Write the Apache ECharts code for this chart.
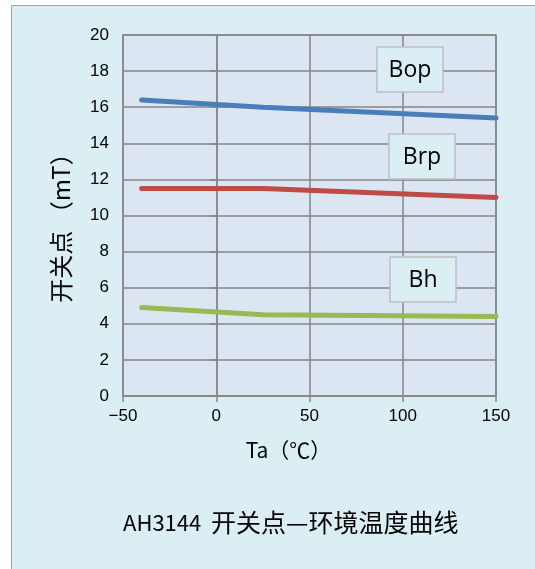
<!DOCTYPE html>
<html>
<head>
<meta charset="utf-8">
<script src="https://cdn.jsdelivr.net/npm/echarts@6/dist/echarts.min.js"></script>
<style>
html,body{margin:0;padding:0;background:#fff;overflow:hidden;}
#frame{position:absolute;left:11px;top:5px;width:600px;height:600px;border:1.5px solid #a6a6a6;background:#daeef3;box-sizing:border-box;}
#chart{position:absolute;left:0;top:0;width:535px;height:569px;}
</style>
</head>
<body>
<div id="frame"></div>
<div id="chart"></div>
<script>
// Data
const temps = [-40, 25, 150];
const bop = [16.4, 16.0, 15.4];
const brp = [11.5, 11.5, 11.0];
const bh = [4.9, 4.5, 4.4];
const seriesNames = ['Bop', 'Brp', 'Bh'];
const xTicks = [-50, 0, 50, 100, 150];
const yTicks = [0, 2, 4, 6, 8, 10, 12, 14, 16, 18, 20];
const titleLatin = 'AH3144  ';
const titleCjk = '开关点—环境温度曲线';
const xName = 'Ta（℃）';
const yName = '开关点 （mT）';

const colors = ['#4a7ebb', '#be4b48', '#98b954'];
const pairs = arr => temps.map((t, i) => [t, arr[i]]);

const chart = echarts.init(document.getElementById('chart'), null, {renderer: 'canvas'});
const latin = '"Liberation Sans", Arial, sans-serif';
const cjk = '"Noto Sans CJK SC", "Noto Sans", sans-serif';

function labelBox(text, x, y) {
  return [
    {type: 'rect', shape: {x: x, y: y, width: 66, height: 45},
     style: {fill: '#daeef3', stroke: '#bfbfbf', lineWidth: 1.5}, z: 10},
    {type: 'text', x: x + 33, y: y + 23, z: 11,
     style: {text: text, fill: '#000', font: '23px "Open Sans", "Noto Sans", sans-serif',
             align: 'center', verticalAlign: 'middle'}}
  ];
}

chart.setOption({
  backgroundColor: 'transparent',
  animation: false,
  title: {
    text: '{a|' + titleLatin + '}{b|' + titleCjk + '}',
    left: 118, top: 505,
    textStyle: {
      fontWeight: 'normal',
      rich: {
        a: {fontFamily: cjk, fontSize: 22, fontWeight: 'normal', color: '#000'},
        b: {fontFamily: cjk, fontSize: 25, fontWeight: 'normal', color: '#000'}
      }
    }
  },
  grid: {
    left: 123, top: 35, width: 373, height: 361,
    show: true, backgroundColor: '#dce6f2', borderColor: '#868686', borderWidth: 1.5
  },
  xAxis: {
    type: 'value', min: xTicks[0], max: xTicks[xTicks.length - 1], interval: 50,
    name: xName, nameLocation: 'middle', nameGap: 44,
    nameTextStyle: {fontFamily: cjk, fontSize: 21, color: '#000', padding: [0, 42, 0, 0]},
    axisLine: {show: true, lineStyle: {color: '#868686', width: 1.5}},
    axisTick: {show: true, length: 6, lineStyle: {color: '#868686', width: 1.5}},
    axisLabel: {margin: 12, color: '#000', fontFamily: latin, fontSize: 17,
      formatter: v => String(v).replace('-', '\u2212')},
    splitLine: {show: true, lineStyle: {color: '#868686', width: 1.5}}
  },
  yAxis: {
    type: 'value', min: yTicks[0], max: yTicks[yTicks.length - 1], interval: 2,
    name: yName, nameLocation: 'middle', nameGap: 50, nameRotate: 90,
    nameTextStyle: {fontFamily: cjk, fontSize: 24, color: '#000', padding: [0, 13, 0, 0]},
    axisLine: {show: true, lineStyle: {color: '#868686', width: 1.5}},
    axisTick: {show: true, length: 6, lineStyle: {color: '#868686', width: 1.5}},
    axisLabel: {margin: 14, color: '#000', fontFamily: latin, fontSize: 17},
    splitLine: {show: true, lineStyle: {color: '#868686', width: 1.5}}
  },
  series: [bop, brp, bh].map((arr, i) => ({
    name: seriesNames[i], type: 'line', data: pairs(arr),
    showSymbol: false, smooth: false,
    lineStyle: {color: colors[i], width: 5, cap: 'round'},
    itemStyle: {color: colors[i]}
  })),
  graphic: [].concat(
    labelBox(seriesNames[0], 377, 47),
    labelBox(seriesNames[1], 389, 134),
    labelBox(seriesNames[2], 390, 257)
  )
});
</script>
</body>
</html>
